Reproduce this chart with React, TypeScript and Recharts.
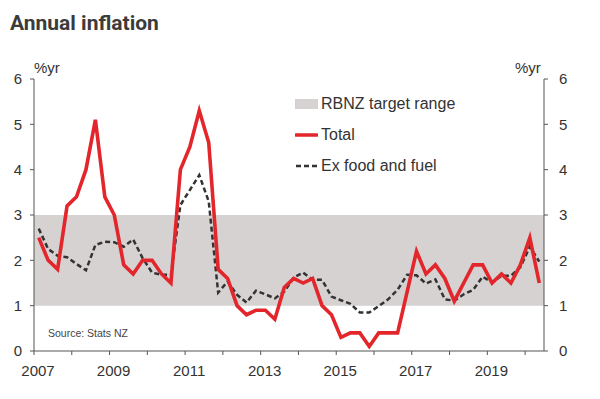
import React from "react";
import { LineChart, Line, XAxis, YAxis, ReferenceArea } from "recharts";

const quarters = [
  "2007Q1","2007Q2","2007Q3","2007Q4",
  "2008Q1","2008Q2","2008Q3","2008Q4",
  "2009Q1","2009Q2","2009Q3","2009Q4",
  "2010Q1","2010Q2","2010Q3","2010Q4",
  "2011Q1","2011Q2","2011Q3","2011Q4",
  "2012Q1","2012Q2","2012Q3","2012Q4",
  "2013Q1","2013Q2","2013Q3","2013Q4",
  "2014Q1","2014Q2","2014Q3","2014Q4",
  "2015Q1","2015Q2","2015Q3","2015Q4",
  "2016Q1","2016Q2","2016Q3","2016Q4",
  "2017Q1","2017Q2","2017Q3","2017Q4",
  "2018Q1","2018Q2","2018Q3","2018Q4",
  "2019Q1","2019Q2","2019Q3","2019Q4",
  "2020Q1","2020Q2",
];

const total = [
  2.5, 2.0, 1.8, 3.2,
  3.4, 4.0, 5.1, 3.4,
  3.0, 1.9, 1.7, 2.0,
  2.0, 1.7, 1.5, 4.0,
  4.5, 5.3, 4.6, 1.8,
  1.6, 1.0, 0.8, 0.9,
  0.9, 0.7, 1.4, 1.6,
  1.5, 1.6, 1.0, 0.8,
  0.3, 0.4, 0.4, 0.1,
  0.4, 0.4, 0.4, 1.3,
  2.2, 1.7, 1.9, 1.6,
  1.1, 1.5, 1.9, 1.9,
  1.5, 1.7, 1.5, 1.9,
  2.5, 1.5,
];

const exFoodFuel = [
  2.7, 2.25, 2.1, 2.07,
  1.92, 1.78, 2.34, 2.41,
  2.4, 2.3, 2.46, 2.05,
  1.73, 1.68, 1.68, 3.22,
  3.55, 3.88, 3.3, 1.29,
  1.53, 1.24, 1.07, 1.33,
  1.25, 1.16, 1.31, 1.62,
  1.73, 1.57, 1.57, 1.2,
  1.12, 1.04, 0.85, 0.85,
  0.99, 1.14, 1.35, 1.68,
  1.67, 1.49, 1.58, 1.14,
  1.11, 1.25, 1.35, 1.64,
  1.51, 1.66, 1.66, 1.85,
  2.3, 1.97,
];

const yearTicks = [2007, 2008, 2009, 2010, 2011, 2012, 2013, 2014, 2015, 2016, 2017, 2018, 2019, 2020];
const labelledYears = [2007, 2009, 2011, 2013, 2015, 2017, 2019];
const yTicks = [0, 1, 2, 3, 4, 5, 6];
const targetRange = [1, 3];

const quarterPos = (q: string) => {
  const y = parseInt(q.slice(0, 4), 10);
  const n = parseInt(q.slice(5), 10);
  return y + (n - 1) / 4 + 0.125;
};

const data = quarters.map((q, i) => ({
  t: quarterPos(q),
  total: total[i],
  ex: exFoodFuel[i],
}));

const RED = "#e3262b";
const DARK = "#333333";
const AXIS = "#555555";
const BAND = "#d5d2d1";
const FONT = "'Liberation Sans', Arial, sans-serif";

export default function App() {
  return (
    <div style={{ position: "absolute", left: 0, top: 0, width: 600, height: 399, background: "#fff", fontFamily: FONT }}>
      <div style={{ position: "absolute", left: 10, top: 10, fontFamily: "Roboto, sans-serif", fontWeight: 700, fontSize: 21, color: "#3b3b3b", whiteSpace: "nowrap", lineHeight: "26px" }}>
        Annual inflation
      </div>
      <LineChart width={600} height={399} data={data} margin={{ top: 79, right: 0, bottom: 0, left: 0 }}>
        <ReferenceArea yAxisId="l" x1={2007} x2={2020.5} y1={targetRange[0]} y2={targetRange[1]} fill={BAND} fillOpacity={1} stroke="none" />
        <XAxis
          dataKey="t"
          type="number"
          domain={[2007, 2020.5]}
          ticks={yearTicks}
          allowDataOverflow
          height={48}
          tickSize={4}
          tickMargin={10}
          stroke={AXIS}
          tick={{ fill: DARK, fontSize: 15, fontFamily: FONT, dx: 4 }}
          tickFormatter={(v: number) => (labelledYears.includes(v) ? String(v) : "")}
          interval={0}
        />
        <YAxis
          yAxisId="l"
          orientation="left"
          width={34}
          domain={[0, 6]}
          ticks={yTicks}
          tickSize={4}
          tickMargin={8}
          stroke={AXIS}
          tick={{ fill: DARK, fontSize: 15, fontFamily: FONT }}
          interval={0}
        />
        <YAxis
          yAxisId="r"
          orientation="right"
          width={56}
          domain={[0, 6]}
          ticks={yTicks}
          tickSize={4}
          tickMargin={11}
          stroke={AXIS}
          tick={{ fill: DARK, fontSize: 15, fontFamily: FONT }}
          interval={0}
        />
        <Line yAxisId="r" type="linear" dataKey="total" stroke="none" strokeWidth={0} dot={false} activeDot={false} isAnimationActive={false} />
        <Line yAxisId="l" type="linear" dataKey="ex" stroke={DARK} strokeWidth={2.5} strokeDasharray="5 3" dot={false} isAnimationActive={false} />
        <Line yAxisId="l" type="linear" dataKey="total" stroke={RED} strokeWidth={3.6} dot={false} isAnimationActive={false} strokeLinejoin="miter" />
      </LineChart>
      <div style={{ position: "absolute", left: 34, top: 59, fontSize: 15, color: DARK }}>%yr</div>
      <div style={{ position: "absolute", left: 515, top: 59, fontSize: 15, color: DARK }}>%yr</div>
      <div style={{ position: "absolute", left: 48, top: 327, fontSize: 10.5, color: "#444" }}>Source: Stats NZ</div>
      <div style={{ position: "absolute", left: 295, top: 94, fontSize: 16, color: DARK, lineHeight: "20px" }}>
        <div style={{ display: "flex", alignItems: "center", height: 20 }}>
          <div style={{ width: 23, height: 10, background: BAND, marginRight: 3 }} />
          <span>RBNZ target range</span>
        </div>
        <div style={{ display: "flex", alignItems: "center", height: 20, marginTop: 11 }}>
          <svg width={23} height={6} style={{ marginRight: 3 }}>
            <line x1={1} y1={3} x2={22} y2={3} stroke={RED} strokeWidth={3.5} strokeLinecap="round" />
          </svg>
          <span>Total</span>
        </div>
        <div style={{ display: "flex", alignItems: "center", height: 20, marginTop: 11 }}>
          <svg width={23} height={6} style={{ marginRight: 3 }}>
            <line x1={1} y1={3} x2={22} y2={3} stroke={DARK} strokeWidth={2.5} strokeDasharray="5 3" />
          </svg>
          <span>Ex food and fuel</span>
        </div>
      </div>
    </div>
  );
}
